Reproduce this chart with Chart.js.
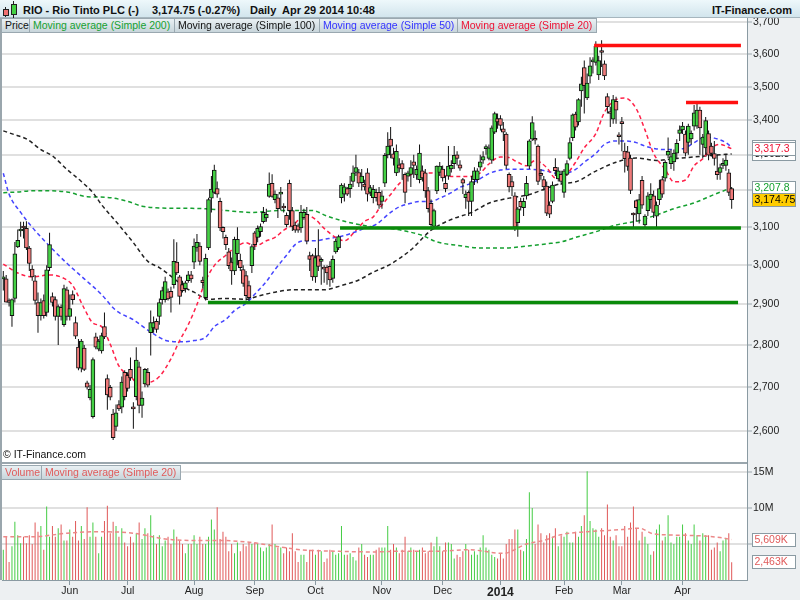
<!DOCTYPE html>
<html>
<head>
<meta charset="utf-8">
<script src="https://cdn.jsdelivr.net/npm/chart.js@4.4.0/dist/chart.umd.min.js"></script>
<style>
  body { margin: 0; background: #fff; }
  #wrap { position: relative; width: 800px; height: 600px; overflow: hidden; font-family: "Liberation Sans", Arial, sans-serif; }
  #c { position: absolute; left: 0; top: 0; }
  #head { position: absolute; left: 0; top: 0; width: 800px; height: 17px; background: linear-gradient(#eef8fb, #d2e5ed); border-bottom: 1px solid #a6b6be; }
  #head span { position: absolute; top: 4px; font-weight: bold; font-size: 11px; line-height: 13px; color: #111; white-space: pre; }
  .lg { position: absolute; height: 15px; line-height: 13px; font-size: 10.5px; padding-left: 3px; box-sizing: border-box; border: 1px solid #9aa8b0; background: linear-gradient(#e9f0f3, #c8d5db); white-space: nowrap; overflow: hidden; }
  .ic { position: absolute; border: 1px solid #222; box-sizing: border-box; }
</style>
</head>
<body>
<div id="wrap">
  <canvas id="c" width="800" height="600"></canvas>
  <div id="head">
    <div style="position:absolute;left:5px;top:7px;width:1px;height:10px;background:#222"></div>
    <div class="ic" style="left:3px;top:9px;width:6px;height:7px;background:#f07070"></div>
    <div style="position:absolute;left:13px;top:1px;width:1px;height:17px;background:#222"></div>
    <div class="ic" style="left:11px;top:4px;width:6px;height:11px;background:#44d044"></div>
    <span style="left:23px">RIO - Rio Tinto PLC (-)</span>
    <span style="left:152px">3,174.75 (-0.27%)</span>
    <span style="left:250px">Daily  Apr 29 2014 10:48</span>
    <span style="right:8px">IT-Finance.com</span>
  </div>
  <div class="lg" style="left:1px;top:18px;width:29px;color:#111">Price</div>
  <div class="lg" style="left:29px;top:18px;width:146px;color:#15a030">Moving average (Simple 200)</div>
  <div class="lg" style="left:174px;top:18px;width:146px;color:#111">Moving average (Simple 100)</div>
  <div class="lg" style="left:319px;top:18px;width:139px;color:#3333ff">Moving average (Simple 50)</div>
  <div class="lg" style="left:457px;top:18px;width:140px;color:#ee1133">Moving average (Simple 20)</div>
  <div style="position:absolute;left:3px;top:448px;font-size:10.5px;line-height:13px;color:#111">© IT-Finance.com</div>
  <div class="lg" style="left:1px;top:465px;width:41px;color:#e05a5a">Volume</div>
  <div class="lg" style="left:41px;top:465px;width:140px;color:#e05a5a">Moving average (Simple 20)</div>
</div>
<script>
// daily bars, Apr 2013 - Apr 29 2014 (index 0 = first bar)
const opens = [
  2965,2965,2910,2872,2915,3048,3090,3100,3097,3045,
  2990,2960,2905,2872,2910,2880,2994,2920,2912,2870,
  2893,2850,2937,2870,2925,2855,2795,2745,2793,2710,
  2675,2632,2820,2790,2786,2845,2720,2700,2638,2610,
  2660,2654,2735,2728,2742,2652,2678,2748,2658,2708,
  2735,2830,2842,2858,2870,2912,2912,2932,2933,2950,
  3008,2970,2950,2940,2960,2975,3008,3045,3050,2962,
  2917,3045,3179,3195,3205,3170,3100,3073,3035,3008,
  2985,3030,3013,2989,2973,2948,2999,3085,3073,3088,
  3115,3125,3184,3220,3175,3180,3190,3155,3132,3220,
  3145,3106,3104,3098,3126,3135,3025,3025,2970,3025,
  3010,2995,2995,2997,2966,3035,3045,3180,3190,3205,
  3205,3225,3250,3250,3222,3218,3249,3195,3180,3195,
  3195,3170,3220,3300,3345,3303,3249,3272,3275,3245,
  3240,3245,3280,3243,3230,3255,3249,3200,3165,3102,
  3199,3250,3260,3220,3240,3260,3275,3300,3272,3230,
  3180,3195,3170,3230,3230,3265,3285,3318,3290,3285,
  3365,3405,3405,3375,3360,3245,3225,3185,3112,3170,
  3153,3185,3268,3345,3347,3325,3245,3230,3212,3160,
  3170,3265,3232,3245,3195,3245,3290,3349,3418,3395,
  3487,3558,3466,3532,3576,3574,3536,3607,3570,3470,
  3422,3403,3456,3354,3392,3311,3309,3291,3135,3172,
  3136,3228,3106,3145,3175,3185,3130,3175,3230,3234,
  3299,3275,3280,3305,3362,3372,3360,3336,3346,3383,
  3383,3430,3330,3320,3361,3325,3304,3254,3250,3270,
  3270,3249,3205
];
const highs = [
  2985,2975,2915,2915,3061,3094,3115,3115,3116,3050,
  3000,2975,2930,2915,2925,3000,3085,2930,2920,2900,
  2900,2950,2945,2925,2935,2870,2815,2815,2800,2715,
  2705,2770,2830,2815,2830,2880,2730,2705,2650,2660,
  2670,2725,2740,2735,2770,2665,2795,2760,2690,2745,
  2745,2885,2870,2865,2915,2945,2970,2940,2945,3068,
  3060,2975,2960,2960,2985,2985,3070,3082,3060,2970,
  3030,3180,3240,3272,3225,3180,3102,3080,3045,3020,
  3075,3100,3030,3000,2985,2960,3055,3090,3105,3110,
  3155,3150,3250,3245,3200,3190,3210,3165,3140,3230,
  3155,3115,3110,3160,3150,3155,3035,3030,3045,3095,
  3020,3000,3000,3010,3025,3070,3080,3220,3220,3210,
  3240,3270,3300,3260,3260,3230,3262,3215,3215,3205,
  3210,3200,3305,3365,3380,3320,3330,3290,3285,3250,
  3255,3285,3300,3270,3330,3270,3260,3210,3175,3150,
  3270,3280,3270,3240,3325,3285,3325,3310,3285,3235,
  3200,3200,3240,3265,3262,3300,3310,3330,3330,3385,
  3425,3420,3415,3395,3365,3250,3240,3195,3155,3180,
  3180,3240,3345,3412,3370,3330,3260,3240,3225,3170,
  3225,3290,3265,3255,3260,3285,3350,3420,3425,3465,
  3530,3580,3540,3590,3590,3640,3595,3643,3580,3480,
  3440,3475,3470,3365,3410,3335,3325,3300,3140,3175,
  3190,3240,3135,3195,3220,3200,3170,3230,3240,3285,
  3350,3315,3315,3345,3385,3395,3370,3390,3370,3445,
  3448,3440,3360,3410,3370,3335,3340,3300,3275,3290,
  3300,3260,3210
];
const lows = [
  2935,2905,2895,2845,2905,3045,3075,3070,3040,2985,
  2960,2900,2830,2860,2865,2870,2985,2895,2860,2800,
  2860,2845,2860,2860,2900,2815,2740,2735,2738,2695,
  2670,2628,2790,2785,2780,2815,2648,2670,2580,2600,
  2645,2640,2670,2690,2715,2605,2670,2640,2630,2700,
  2700,2775,2830,2830,2850,2900,2905,2910,2880,2940,
  2975,2900,2930,2930,2955,2955,2990,3035,3000,2940,
  2910,3040,3140,3190,3180,3090,3070,3040,2990,2950,
  2975,3000,2985,2945,2910,2910,2980,3040,3060,3075,
  3110,3115,3180,3180,3165,3125,3145,3140,3100,3120,
  3090,3085,3085,3085,3120,3055,2985,2960,2955,2985,
  2950,2955,2950,2945,2955,3030,3040,3165,3170,3185,
  3180,3210,3240,3210,3200,3200,3170,3185,3165,3170,
  3150,3150,3210,3290,3290,3270,3240,3250,3230,3165,
  3225,3210,3235,3230,3220,3225,3180,3140,3095,3095,
  3190,3240,3225,3195,3230,3250,3260,3270,3255,3190,
  3150,3130,3130,3215,3220,3255,3275,3300,3285,3275,
  3360,3375,3370,3340,3260,3195,3185,3090,3075,3145,
  3130,3175,3260,3340,3330,3215,3230,3200,3130,3125,
  3165,3240,3225,3215,3180,3240,3285,3340,3370,3385,
  3440,3420,3460,3510,3540,3565,3520,3560,3520,3420,
  3380,3390,3390,3330,3310,3250,3255,3190,3100,3115,
  3110,3150,3098,3130,3150,3125,3098,3160,3180,3225,
  3290,3260,3255,3290,3340,3360,3295,3300,3330,3370,
  3375,3300,3290,3300,3285,3295,3270,3230,3230,3260,
  3255,3185,3150
];
const closes = [
  2968,2906,2905,2912,3030,3065,3095,3098,3045,3005,
  2970,2910,2872,2905,2872,2988,3054,2905,2870,2895,
  2870,2940,2870,2890,2912,2822,2745,2810,2742,2700,
  2695,2765,2795,2810,2823,2820,2682,2677,2585,2641,
  2650,2712,2678,2697,2722,2650,2764,2658,2675,2742,
  2705,2855,2855,2838,2905,2935,2958,2914,2918,3010,
  2980,2920,2935,2955,2975,2965,3050,3060,3010,2955,
  3018,3175,3204,3257,3190,3098,3088,3054,2999,2985,
  3068,3068,2994,2953,2922,2917,3049,3054,3097,3102,
  3140,3135,3218,3184,3190,3150,3192,3152,3107,3145,
  3102,3092,3092,3140,3140,3063,3015,2970,3020,2997,
  3012,2990,2980,2962,3015,3063,3075,3215,3210,3190,
  3218,3249,3264,3220,3240,3210,3190,3208,3203,3180,
  3160,3185,3299,3325,3325,3290,3310,3262,3260,3195,
  3249,3264,3270,3259,3305,3235,3199,3150,3107,3145,
  3268,3268,3235,3205,3268,3270,3299,3290,3262,3220,
  3190,3170,3225,3255,3255,3280,3295,3320,3320,3378,
  3420,3395,3385,3365,3270,3210,3210,3100,3150,3155,
  3170,3220,3340,3393,3342,3225,3242,3210,3138,3135,
  3215,3255,3255,3225,3255,3275,3335,3416,3380,3461,
  3509,3503,3511,3564,3578,3625,3580,3605,3533,3440,
  3420,3461,3430,3352,3390,3289,3267,3200,3133,3153,
  3175,3160,3130,3185,3190,3140,3160,3205,3190,3279,
  3310,3295,3305,3333,3372,3383,3305,3383,3362,3422,
  3430,3378,3351,3399,3299,3304,3290,3244,3264,3275,
  3285,3195,3174.75
];
// volume in millions
const volumes = [
  4.2,6.0,2.5,4.7,8.1,6.2,5.1,6.0,5.1,6.2,
  5.0,8.0,6.7,7.5,4.2,10.2,6.0,7.5,6.0,7.2,
  7.7,5.5,5.5,7.0,6.0,8.2,5.5,7.5,5.7,10.1,
  6.0,8.0,6.0,3.7,6.0,8.2,10.3,6.5,8.1,7.5,
  6.0,7.2,5.2,4.7,6.0,5.2,6.5,8.0,5.7,7.2,
  6.5,9.0,6.2,5.0,6.2,4.7,5.5,6.0,5.0,7.0,
  6.0,5.5,5.0,3.7,5.0,5.0,6.2,5.0,6.0,5.0,
  5.0,6.0,8.4,7.0,10.1,5.7,6.7,6.0,4.0,5.0,
  3.7,5.2,4.0,5.0,4.7,5.2,5.0,5.2,5.0,4.5,
  4.0,4.5,5.0,7.7,5.0,4.5,4.5,3.7,4.5,4.0,
  6.5,4.0,2.5,3.5,3.5,2.5,4.2,4.2,3.5,4.2,
  4.0,2.5,3.0,4.2,4.0,3.5,3.7,7.5,3.5,3.5,
  3.7,3.2,2.7,4.5,5.0,3.5,3.2,3.5,3.5,4.2,
  4.5,4.5,4.5,7.5,4.2,5.0,4.5,3.7,4.2,6.0,
  4.0,4.5,4.2,4.0,4.2,4.5,3.7,4.0,5.2,4.7,
  6.0,4.7,4.0,5.2,5.2,5.0,3.0,3.5,3.2,4.0,
  5.0,4.2,3.5,4.0,3.5,4.5,6.2,4.5,4.2,3.5,
  3.2,3.0,3.7,3.0,5.0,5.7,5.7,7.0,7.0,4.2,
  4.0,5.7,12.2,10.0,5.0,7.7,6.5,5.2,6.2,6.5,
  6.0,7.2,4.7,6.2,6.0,6.7,5.2,5.2,6.7,6.0,
  7.5,9.0,15.1,8.2,7.2,7.0,6.0,7.2,6.2,10.5,
  6.0,5.5,6.2,4.7,4.7,7.5,6.0,8.0,10.2,7.2,
  5.5,6.7,6.0,5.0,3.5,4.0,7.0,7.7,5.5,6.0,
  9.0,5.2,5.0,6.0,6.0,7.7,6.5,5.5,5.0,7.7,
  6.2,5.5,6.5,6.2,6.2,4.2,4.5,5.2,4.0,5.5,
  5.7,6.5,2.463
];

// moving averages: [bar index, value]
const sma200 = [[0,3194],[5,3196],[10,3199],[16,3199],[22,3196],[29,3183],[36,3181],[43,3170],[48,3157],[54,3152],[65,3151],[70,3150],[77,3145],[86,3140],[95,3145],[102,3145],[107,3145],[112,3130],[118,3116],[124,3106],[129,3100],[134,3097],[139,3090],[145,3078],[150,3061],[157,3052],[165,3045],[173,3045],[181,3050],[188,3056],[193,3061],[198,3073],[205,3088],[212,3106],[219,3116],[226,3133],[232,3150],[239,3166],[246,3189],[252,3207.8]];
const sma100 = [[0,3369],[5,3355],[8,3346],[13,3315],[17,3297],[22,3259],[27,3225],[31,3194],[34,3161],[40,3106],[45,3059],[50,3010],[54,2994],[59,2966],[63,2942],[66,2931],[71,2913],[77,2915],[84,2913],[88,2921],[94,2931],[100,2937],[106,2937],[111,2937],[117,2948],[123,2962],[128,2982],[134,3003],[141,3040],[148,3092],[155,3121],[162,3140],[168,3165],[175,3179],[182,3189],[189,3209],[193,3219],[198,3224],[205,3254],[212,3279],[219,3291],[226,3284],[232,3289],[239,3294],[246,3299],[252,3302.8]];
const sma50 = [[0,3248],[2,3190],[6,3140],[10,3100],[16,3050],[22,3005],[28,2965],[34,2925],[39,2885],[45,2862],[51,2832],[57,2810],[62,2808],[66,2811],[70,2819],[73,2845],[77,2863],[80,2885],[84,2903],[87,2926],[91,2958],[94,2989],[98,3026],[101,3054],[104,3064],[108,3064],[111,3068],[115,3073],[118,3078],[122,3088],[125,3097],[129,3108],[134,3140],[137,3155],[141,3165],[144,3170],[148,3170],[151,3179],[155,3194],[158,3209],[162,3220],[165,3233],[168,3247],[172,3257],[175,3259],[179,3259],[182,3259],[186,3257],[189,3252],[193,3245],[198,3259],[201,3279],[205,3304],[208,3330],[212,3340],[215,3340],[219,3335],[222,3325],[226,3317],[229,3315],[232,3315],[236,3320],[239,3335],[243,3351],[246,3348],[250,3335],[252,3322]];
const sma20 = [[0,3003],[5,2980],[10,2970],[16,2975],[22,2962],[24,2948],[28,2890],[31,2854],[34,2845],[37,2802],[40,2750],[44,2725],[47,2708],[51,2712],[54,2725],[58,2767],[61,2811],[64,2850],[67,2900],[70,2960],[73,2999],[77,3026],[80,3045],[84,3059],[87,3050],[91,3064],[94,3073],[97,3092],[101,3111],[104,3135],[108,3121],[111,3097],[115,3073],[118,3064],[122,3092],[125,3116],[128,3128],[130,3150],[134,3189],[137,3219],[141,3244],[144,3249],[148,3249],[151,3244],[155,3239],[158,3239],[161,3239],[165,3249],[168,3274],[172,3294],[174,3294],[178,3279],[181,3269],[184,3284],[188,3264],[191,3235],[194,3239],[198,3279],[201,3320],[205,3361],[208,3424],[212,3461],[215,3466],[219,3434],[222,3372],[225,3304],[229,3259],[232,3224],[236,3229],[239,3269],[242,3289],[245,3320],[248,3330],[252,3317.3]];
const volSma20 = [[0,6.0],[10,6.0],[22,6.5],[33,6.7],[45,6.5],[56,5.7],[64,5.5],[74,5.5],[86,5.2],[94,4.7],[103,4.2],[115,4.0],[128,3.9],[138,4.0],[150,4.0],[161,4.2],[173,3.7],[181,5.0],[187,5.5],[193,6.3],[202,6.7],[214,7.0],[220,7.2],[225,6.4],[237,6.2],[248,5.9],[252,5.609]];

// hand-drawn levels: [from index, to index, price]
const resistance = [[204.4, 255.2, 3627], [236.2, 254.2, 3453]];
const support = [[116.5, 255.2, 3098], [70.8, 254.2, 2905]];

const priceTicks = [2600, 2700, 2800, 2900, 3000, 3100, 3200, 3300, 3400, 3500, 3600, 3700];
const volTicks = [5, 10, 15];
const monthIdx = [23, 43, 66, 87, 108, 131, 152, 172, 194, 214, 235];
const monthLbl = ['Jun', 'Jul', 'Aug', 'Sep', 'Oct', 'Nov', 'Dec', '2014', 'Feb', 'Mar', 'Apr'];

const GREEN = '#44d044', RED = '#f07a7a';
const FONT = '"Liberation Sans", Arial, sans-serif';
Chart.defaults.font.family = FONT;
Chart.defaults.font.size = 10.5;
Chart.defaults.color = '#222';

const fmt = (v, d) => v.toLocaleString('en-US', { minimumFractionDigits: d, maximumFractionDigits: d });
const pts = arr => arr.map(p => ({ x: p[0], y: p[1] }));
const up = closes.map((c, i) => c >= opens[i]);

const maLine = (data, color, order) => ({
  type: 'line', data: pts(data), yAxisID: 'y', borderColor: color, borderWidth: 1.5,
  borderDash: [4, 3], pointRadius: 0, cubicInterpolationMode: 'monotone', order: order
});
const level = (l, color) => ({
  type: 'line', data: [{ x: l[0], y: l[2] }, { x: l[1], y: l[2] }], yAxisID: 'y',
  borderColor: color, borderWidth: 3.5, pointRadius: 0, order: 0
});

const panelPlugin = {
  id: 'panels',
  beforeDraw(chart) {
    const { ctx, chartArea: a } = chart;
    ctx.save();
    ctx.fillStyle = '#edf0f2';
    ctx.fillRect(0, 0, chart.width, chart.height);
    ctx.fillStyle = '#fff';
    ctx.fillRect(a.left, a.top, a.right - a.left, a.bottom - a.top);
    ctx.restore();
  },
  afterDraw(chart) {
    const { ctx, chartArea: a, scales } = chart;
    ctx.save();
    ctx.strokeStyle = '#9aa6ad';
    ctx.lineWidth = 2;
    ctx.beginPath();
    ctx.moveTo(1, a.top); ctx.lineTo(1, a.bottom);
    ctx.moveTo(0, scales.yv.top); ctx.lineTo(a.right, scales.yv.top);
    ctx.stroke();

    const tag = (scale, v, text, color, bg) => {
      const y = Math.round(scale.getPixelForValue(v));
      ctx.fillStyle = bg;
      ctx.fillRect(752.5, y - 6.5, 43, 13);
      ctx.strokeStyle = '#8a9aa2';
      ctx.lineWidth = 1;
      ctx.strokeRect(752.5, y - 6.5, 43, 13);
      ctx.fillStyle = color;
      ctx.font = '10.5px ' + FONT;
      ctx.textBaseline = 'middle';
      ctx.fillText(text, 754.5, y + 0.5);
    };
    const last = arr => arr[arr.length - 1][1];
    tag(scales.y, last(sma50), fmt(last(sma50), 1), '#3333ff', '#fff');
    tag(scales.y, last(sma100), fmt(last(sma100), 1), '#111', '#fff');
    tag(scales.y, last(sma20), fmt(last(sma20), 1), '#ee1133', '#fff');
    tag(scales.y, last(sma200), fmt(last(sma200), 1), '#15a030', '#fff');
    const lc = closes[closes.length - 1];
    tag(scales.y, lc, fmt(lc, 2), '#000', '#ffcc00');
    const lv = last(volSma20);
    tag(scales.yv, lv, fmt(Math.round(lv * 1000), 0) + 'K', '#e05a5a', '#fff');
    const vv = volumes[volumes.length - 1];
    tag(scales.yv, vv, fmt(Math.round(vv * 1000), 0) + 'K', '#e05a5a', '#fff');
    ctx.restore();
  }
};

new Chart(document.getElementById('c'), {
  type: 'bar',
  data: {
    datasets: [
      {
        data: closes.map((c, i) => ({ x: i, y: [opens[i], c] })), yAxisID: 'y',
        backgroundColor: up.map(u => u ? GREEN : RED), borderColor: '#111', borderWidth: 1,
        borderSkipped: false, barThickness: 4, minBarLength: 2, grouped: false, order: 1
      },
      {
        data: highs.map((h, i) => ({ x: i, y: [lows[i], h] })), yAxisID: 'y',
        backgroundColor: '#111', barThickness: 1, inflateAmount: 0, grouped: false, order: 2
      },
      maLine(sma200, '#15a030', 6),
      maLine(sma100, '#222', 5),
      maLine(sma50, '#4444ff', 4),
      maLine(sma20, '#ff2048', 3),
      level(resistance[0], '#ff1010'),
      level(resistance[1], '#ff1010'),
      level(support[0], '#0a8a0a'),
      level(support[1], '#0a8a0a'),
      {
        data: volumes.map((v, i) => ({ x: i, y: v })), yAxisID: 'yv',
        backgroundColor: up.map(u => u ? '#44cc44' : '#e05858'), barThickness: 1, inflateAmount: 0,
        grouped: false, order: 2
      },
      {
        type: 'line', data: pts(volSma20), yAxisID: 'yv', borderColor: '#ec8888', borderWidth: 1.5,
        borderDash: [4, 3], pointRadius: 0, cubicInterpolationMode: 'monotone', order: 1
      }
    ]
  },
  options: {
    responsive: false,
    animation: false,
    devicePixelRatio: 1,
    layout: { padding: { top: 18, left: 2, right: 0, bottom: 0 } },
    plugins: { legend: { display: false }, tooltip: { enabled: false } },
    scales: {
      x: {
        type: 'linear', min: -0.45, max: 257.3, offset: false,
        grid: { display: true, drawOnChartArea: false, offset: false, tickLength: 5, tickColor: '#8a9aa2' },
        border: { color: '#8a9aa2' },
        afterBuildTicks: s => { s.ticks = monthIdx.map(v => ({ value: v })); },
        afterFit: s => { s.height = 20; },
        ticks: {
          autoSkip: false, maxRotation: 0, padding: 0, color: '#222',
          callback: (v, i) => monthLbl[i],
          font: ctx => ctx.index === 7 ? { weight: 'bold', size: 12 } : { size: 10.5 }
        }
      },
      y: {
        type: 'logarithmic', position: 'right', stack: 'right', stackWeight: 445,
        min: 2529, max: 3714,
        grid: { color: '#e0e0e0', lineWidth: 2, tickLength: 5, tickColor: '#9aa6ad', tickWidth: 1 },
        border: { color: '#8a9aa2' },
        afterBuildTicks: s => { s.ticks = priceTicks.map(v => ({ value: v })); },
        afterFit: s => { s.width = 53; },
        ticks: { padding: 1, color: '#222', callback: v => fmt(v, 0) }
      },
      yv: {
        type: 'linear', position: 'right', stack: 'right', stackWeight: 117,
        min: 0, max: 16.25,
        grid: { color: '#e0e0e0', lineWidth: 2, tickLength: 5, tickColor: '#9aa6ad', tickWidth: 1 },
        border: { color: '#8a9aa2' },
        afterBuildTicks: s => { s.ticks = volTicks.map(v => ({ value: v })); },
        afterFit: s => { s.width = 53; },
        ticks: { padding: 1, color: '#222', callback: v => v + 'M' }
      }
    }
  },
  plugins: [panelPlugin]
});
</script>
</body>
</html>
